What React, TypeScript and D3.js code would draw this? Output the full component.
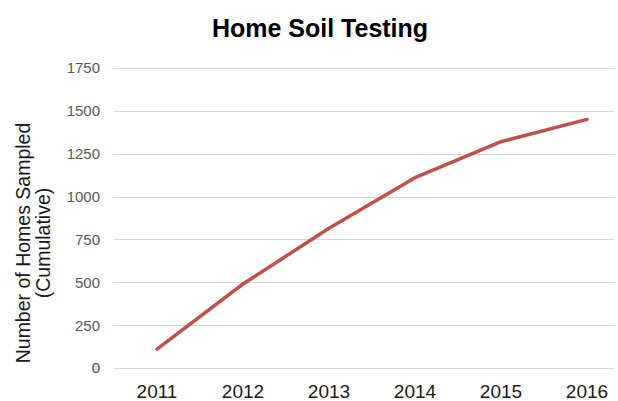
import React from "react";
import * as d3 from "d3";

const years = ["2011", "2012", "2013", "2014", "2015", "2016"];
const homes = [110, 490, 815, 1110, 1320, 1450];
const yTicks = [0, 250, 500, 750, 1000, 1250, 1500, 1750];
const title = "Home Soil Testing";
const yTitle = ["Number of Homes Sampled", "(Cumulative)"];

export default function App() {
  const W = 618;
  const H = 401;
  const x = d3.scalePoint<string>().domain(years).range([157, 587]);
  const y = d3.scaleLinear().domain([0, 1750]).range([368, 68]);
  const line = d3
    .line<number>()
    .x((_, i) => x(years[i]) as number)
    .y((d) => y(d));
  const font = "'Liberation Sans', Arial, sans-serif";
  return (
    <svg
      width={W}
      height={H}
      style={{ position: "absolute", left: 0, top: 0, background: "#fff" }}
      fontFamily={font}
    >
      <rect width={W} height={H} fill="#fff" />
      <text x={320} y={37} textAnchor="middle" fontSize={25} fontWeight="bold" fill="#000">
        {title}
      </text>
      {yTicks.map((t) => (
        <g key={t}>
          <line x1={113} x2={615} y1={Math.round(y(t)) + 0.5} y2={Math.round(y(t)) + 0.5} stroke="#D9D9D9" strokeWidth={1} />
          <text x={100} y={y(t)} dy="0.36em" textAnchor="end" fontSize={15} fill="#595959">
            {t}
          </text>
        </g>
      ))}
      {years.map((yr) => (
        <text key={yr} x={x(yr)} y={398} textAnchor="middle" fontSize={19} fill="#1a1a1a">
          {yr}
        </text>
      ))}
      <g transform="translate(0,243) rotate(-90)">
        <text x={0} y={30} textAnchor="middle" fontSize={19.5} fill="#1a1a1a">
          {yTitle[0]}
        </text>
        <text x={0} y={50} textAnchor="middle" fontSize={19.5} fill="#1a1a1a">
          {yTitle[1]}
        </text>
      </g>
      <path d={line(homes) || ""} fill="none" stroke="#C0504D" strokeWidth={3.5} strokeLinejoin="round" strokeLinecap="round" />
    </svg>
  );
}
